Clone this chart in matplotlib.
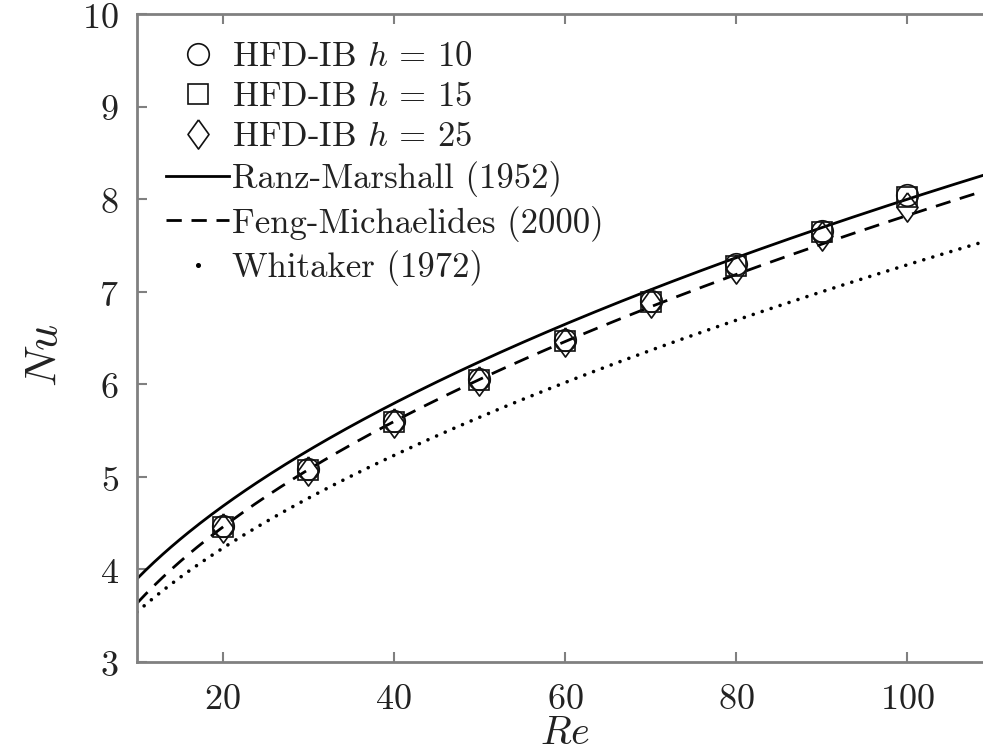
import numpy as np
import matplotlib.pyplot as plt
from matplotlib.lines import Line2D
from matplotlib.transforms import ScaledTranslation

plt.rcParams['font.family'] = 'cmr10'
plt.rcParams['mathtext.fontset'] = 'cm'
plt.rcParams['axes.formatter.use_mathtext'] = True

# simulation points (HFD-IB)
re_pts = [20, 30, 40, 50, 60, 70, 80, 90, 100]
nu_h10 = [4.47, 5.08, 5.60, 6.06, 6.48, 6.90, 7.30, 7.66, 8.05]
nu_h15 = [4.46, 5.07, 5.59, 6.05, 6.47, 6.89, 7.28, 7.65, 8.02]
nu_h25 = [4.45, 5.06, 5.58, 6.04, 6.46, 6.88, 7.25, 7.60, 7.91]

# correlations
re_curve = [10, 15, 20, 30, 40, 50, 60, 70, 80, 90, 100, 110]
nu_ranz = [3.90, 4.32, 4.68, 5.29, 5.79, 6.24, 6.65, 7.02, 7.37, 7.69, 8.00, 8.29]
nu_feng = [3.63, 4.08, 4.47, 5.08, 5.59, 6.04, 6.46, 6.84, 7.19, 7.52, 7.83, 8.11]
nu_whit = [3.54, 3.91, 4.23, 4.77, 5.23, 5.64, 6.02, 6.37, 6.69, 7.00, 7.29, 7.57]

fig = plt.figure(figsize=(9.83, 7.51), dpi=100)
ax = fig.add_axes([137 / 983, 1 - 662 / 751, (993 - 137) / 983, (662 - 14) / 751])

# smooth the read-off curves for drawing
re_fine = np.linspace(10, 110, 300)
fit = lambda nu: np.polyval(np.polyfit(np.sqrt(re_curve), nu, 3), np.sqrt(re_fine))
ax.plot(re_fine, fit(nu_ranz), color='black', linewidth=2.0)
ax.plot(re_fine, fit(nu_feng), color='black', linewidth=2.0, linestyle=(0, (5.5, 3.5)))
ax.plot(re_fine, fit(nu_whit), color='black', linewidth=2.6, linestyle=(0, (0.01, 2.6)),
        dash_capstyle='round')

diamond = [(0, 1), (0.72, 0), (0, -1), (-0.72, 0), (0, 1)]
mk = dict(linestyle='none', color='#111111', markerfacecolor='none', markeredgewidth=1.2)
l1, = ax.plot(re_pts, nu_h10, marker='o', markersize=15.5, **mk)
l2, = ax.plot(re_pts, nu_h15, marker='s', markersize=14, **mk)
l3, = ax.plot(re_pts, nu_h25, marker=diamond, markersize=21, **mk)

ax.set_xlim(10, 110)
ax.set_ylim(3, 10)
ax.set_xticks([20, 40, 60, 80, 100])
ax.set_yticks([3, 4, 5, 6, 7, 8, 9, 10])
ax.tick_params(direction='in', length=7, width=1.5, color='#808080', labelsize=26,
               labelcolor='#222222', top=True, right=True)
ax.tick_params(axis='x', pad=16)
ax.tick_params(axis='y', pad=13)
shift = ScaledTranslation(0, -5 / 100, fig.dpi_scale_trans)
for lab in ax.get_yticklabels():
    lab.set_va('center')
    lab.set_transform(lab.get_transform() + shift)
for s in ax.spines.values():
    s.set_color('#808080')
    s.set_linewidth(2)

ax.set_xlabel('$Re$', fontsize=29, color='#222222', va='baseline')
ax.set_ylabel('$Nu$', fontsize=33, color='#222222', va='baseline')
ax.xaxis.set_label_coords(0.5, -0.127)
ax.yaxis.set_label_coords(-0.093, 0.474)

h_ranz = Line2D([], [], color='black', linewidth=2.0)
h_feng = Line2D([], [], color='black', linewidth=2.0, linestyle=(0, (5.5, 3.5)))
h_whit = Line2D([], [], color='black', linestyle='none', marker='o', markersize=2.6)
ax.legend([l1, l2, l3, h_ranz, h_feng, h_whit],
          ['HFD-IB $h$ = 10', 'HFD-IB $h$ = 15', 'HFD-IB $h$ = 25',
           'Ranz-Marshall (1952)', 'Feng-Michaelides (2000)', 'Whitaker (1972)'],
          loc='upper left', bbox_to_anchor=(0.01, 0.99), frameon=False, fontsize=25,
          handlelength=1.8, handletextpad=0.1, labelspacing=0.24, borderaxespad=0.2,
          labelcolor='#222222')

plt.savefig('out.png', dpi=100)
